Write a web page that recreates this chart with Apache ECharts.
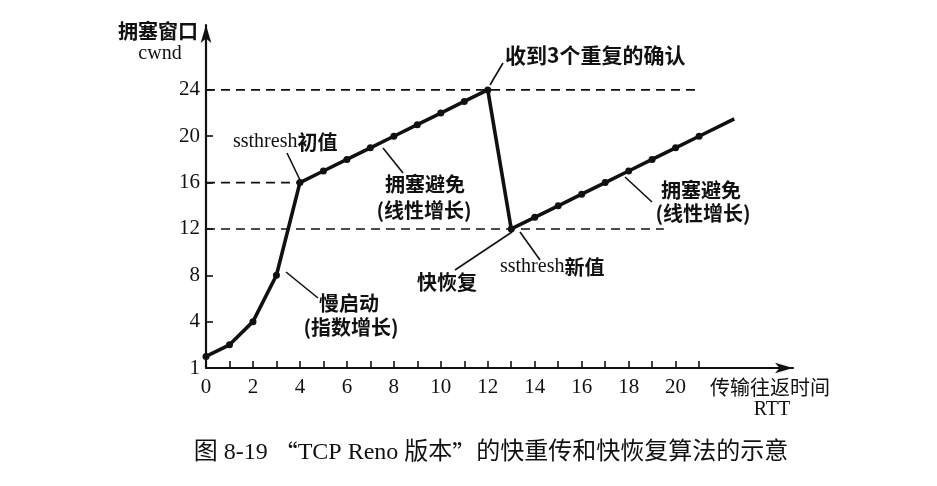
<!DOCTYPE html>
<html>
<head>
<meta charset="utf-8">
<script src="https://cdn.jsdelivr.net/npm/echarts@6/dist/echarts.min.js"></script>
<style>
html,body{margin:0;padding:0;background:#fff;}
#main{width:937px;height:486px;}
</style>
</head>
<body>
<div id="main"></div>
<script>
// ---- data ----
const rttA  = [0, 1, 2, 3, 4, 5, 6, 7, 8, 9, 10, 11, 12];
const cwndA = [1, 2, 4, 8, 16, 17, 18, 19, 20, 21, 22, 23, 24];
const rttB  = [13, 14, 15, 16, 17, 18, 19, 20, 21];
const cwndB = [12, 13, 14, 15, 16, 17, 18, 19, 20];
const tailEnd = [22.5, 21.5];           // line continues past the last dot
const thresholds = [24, 16, 12];        // dashed reference levels
const thresholdEnds = [21, 4, 19.5];    // x where each dashed line stops
const xTickValues = [0,1,2,3,4,5,6,7,8,9,10,11,12,13,14,15,16,17,18,19,20,21];
const xLabelValues = [0, 2, 4, 6, 8, 10, 12, 14, 16, 18, 20];
const yTickValues = [0, 4, 8, 12, 16, 20, 24];
const yTickLabels = ['1', '4', '8', '12', '16', '20', '24'];

const chart = echarts.init(document.getElementById('main'), null, {renderer: 'canvas'});

const SERIF = '"Liberation Serif", "Noto Sans CJK SC", serif';
const CJK = '"Noto Sans CJK SC", "Liberation Serif", sans-serif';
const black = '#111';

function zip(xs, ys) { return xs.map((x, i) => [x, ys[i]]); }

const dashSeries = thresholds.map((t, i) => ({
  type: 'line',
  data: [[0, t], [thresholdEnds[i], t]],
  symbol: 'none',
  silent: true,
  lineStyle: {color: black, width: 1.6, type: [9, 6]},
  z: 1
}));

const mainData = zip(rttA, cwndA);
const dropData = [[rttA[rttA.length - 1], cwndA[cwndA.length - 1]], [rttB[0], cwndB[0]]];
const secondData = zip(rttB, cwndB).concat([{value: tailEnd, symbolSize: 0}]);

const lineCommon = {
  type: 'line',
  symbol: 'circle',
  symbolSize: 7,
  showAllSymbol: true,
  itemStyle: {color: black},
  lineStyle: {color: black, width: 3.6},
  z: 3
};

function txt(x, y, text, font, align, extra) {
  return {
    type: 'text', x: x, y: y, silent: true,
    style: Object.assign({
      text: text, font: font, fill: black,
      textAlign: align || 'center', textVerticalAlign: 'middle'
    }, extra || {})
  };
}
function seg(x1, y1, x2, y2) {
  return {type: 'line', silent: true,
    shape: {x1: x1, y1: y1, x2: x2, y2: y2},
    style: {stroke: black, lineWidth: 1.6}};
}
const boldCJK = 'bold 20px ' + CJK;

const option = {
  animation: false,
  backgroundColor: '#fff',
  grid: {left: 206, right: 144, top: 25, bottom: 118, containLabel: false},
  xAxis: {
    type: 'value', min: 0, max: 25,
    axisLine: {lineStyle: {color: black, width: 2.2}, symbol: ['none', 'arrow'], symbolSize: [8, 18]},
    axisTick: {show: true, inside: true, length: 7, lineStyle: {color: black, width: 1.6}, customValues: xTickValues},
    axisLabel: {customValues: xLabelValues, color: black, fontFamily: SERIF, fontSize: 21, margin: 9},
    splitLine: {show: false}
  },
  yAxis: {
    type: 'value', min: 0, max: 29.6, interval: 4,
    axisLine: {show: true, lineStyle: {color: black, width: 2.2}, symbol: ['none', 'arrow'], symbolSize: [8, 18]},
    axisTick: {show: true, inside: true, length: 7, lineStyle: {color: black, width: 1.6}, customValues: yTickValues},
    axisLabel: {
      customValues: yTickValues, color: black, fontFamily: SERIF, fontSize: 21, margin: 6,
      formatter: function (v) { const i = yTickValues.indexOf(v); return i >= 0 ? yTickLabels[i] : ''; }
    },
    splitLine: {show: false}
  },
  series: dashSeries.concat([
    Object.assign({}, lineCommon, {data: mainData}),
    Object.assign({}, lineCommon, {data: dropData, symbol: 'none'}),
    Object.assign({}, lineCommon, {data: secondData})
  ]),
  graphic: [
    txt(158, 31, '拥塞窗口', boldCJK),
    txt(160, 54, 'cwnd', '20px ' + SERIF),
    txt(505, 55, '收到3个重复的确认', 'bold 21px ' + CJK, 'left'),
    seg(490, 85, 503, 63),
    {
      type: 'text', x: 233, y: 142, silent: true,
      style: {
        text: '{a|ssthresh}{b|初值}', textAlign: 'left', textVerticalAlign: 'middle',
        rich: {a: {font: '20px ' + SERIF, fill: black}, b: {font: boldCJK, fill: black}}
      }
    },
    seg(287, 153, 300, 180),
    txt(425, 184, '拥塞避免', boldCJK),
    txt(424, 210, '(线性增长)', boldCJK),
    seg(383, 148, 403, 173),
    txt(349, 303, '慢启动', boldCJK),
    txt(351, 327, '(指数增长)', boldCJK),
    seg(286, 272, 318, 298),
    txt(447, 282, '快恢复', boldCJK),
    seg(512, 232, 455, 270),
    {
      type: 'text', x: 500, y: 267, silent: true,
      style: {
        text: '{a|ssthresh}{b|新值}', textAlign: 'left', textVerticalAlign: 'middle',
        rich: {a: {font: '20px ' + SERIF, fill: black}, b: {font: boldCJK, fill: black}}
      }
    },
    seg(520, 232, 540, 260),
    txt(701, 190, '拥塞避免', boldCJK),
    txt(703, 213, '(线性增长)', boldCJK),
    seg(625, 177, 652, 202),
    txt(710, 387, '传输往返时间', '20px ' + CJK, 'left'),
    txt(772, 410, 'RTT', '20px ' + SERIF),
    {
      type: 'text', x: 491, y: 453, silent: true,
      style: {
        text: '{s|图 8-19 }{q|“}{s|TCP Reno 版本}{q|”}{s|的快重传和快恢复算法的示意}',
        textAlign: 'center', textVerticalAlign: 'middle',
        rich: {
          s: {font: '24px ' + SERIF, fill: black},
          q: {font: '24px ' + CJK, fill: black}
        }
      }
    }
  ]
};
chart.setOption(option);
</script>
</body>
</html>
